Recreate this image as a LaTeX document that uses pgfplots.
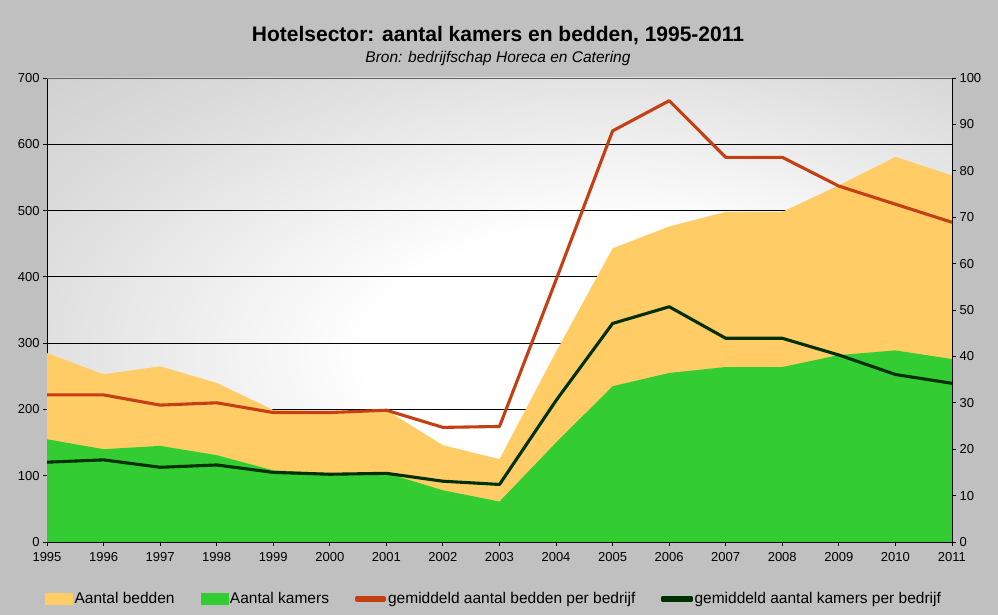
\documentclass[border=0pt]{standalone}
\usepackage{fontspec}
\setmainfont{Liberation Sans}
\usepackage{pgfplots}
\pgfplotsset{compat=1.18}
\definecolor{bg}{RGB}{192,192,192}
\definecolor{bedden}{RGB}{255,204,102}
\definecolor{kamers}{RGB}{51,204,51}
\definecolor{rood}{RGB}{196,64,20}
\definecolor{donker}{RGB}{0,48,0}
\pgfdeclareradialshading{plotbg}{\pgfpoint{8bp}{-6bp}}{color(0bp)=(white); color(14bp)=(white); color(32bp)=(white!45!bg); color(52bp)=(bg); color(80bp)=(bg)}
\begin{document}
\begin{tikzpicture}[x=1pt,y=1pt]
\useasboundingbox (0,0) rectangle (998,615);
\fill[bg] (0,0) rectangle (998,615);
\node[font=\fontsize{21}{25}\selectfont\bfseries] at (498,579) {Hotelsector: aantal kamers en bedden, 1995-2011};
\node[font=\fontsize{15.5}{18}\selectfont\itshape] at (498,556) {Bron: bedrijfschap Horeca en Catering};
\begin{axis}[
  at={(47pt,73pt)}, anchor=south west,
  scale only axis, width=905pt, height=464pt,
  xmin=1995, xmax=2011, ymin=0, ymax=700,
  axis x line*=bottom, axis y line*=left,
  axis line style={black, line width=0.8pt},
  xtick={1995,...,2011}, ytick={0,100,...,700},
  tick align=outside, major tick length=4pt,
  tick style={black, line width=0.8pt},
  ymajorgrids, grid style={black, line width=0.8pt},
  axis background/.style={shading=plotbg},
  ticklabel style={font=\fontsize{13}{15}\selectfont},
  xticklabel style={yshift=-3pt},
  /pgf/number format/1000 sep={},
  /pgf/number format/assume math mode=true,
]
\addplot[draw=none, fill=bedden] coordinates {
(1995,285) (1996,253) (1997,265) (1998,240) (1999,199) (2000,198) (2001,199) (2002,146) (2003,125)
(2004,287) (2005,443) (2006,476) (2007,498) (2008,498) (2009,538) (2010,581) (2011,553)} \closedcycle;
\addplot[draw=none, fill=kamers] coordinates {
(1995,155) (1996,140) (1997,145) (1998,131) (1999,108) (2000,104) (2001,104) (2002,78) (2003,61)
(2004,150) (2005,235) (2006,255) (2007,264) (2008,264) (2009,282) (2010,289) (2011,276)} \closedcycle;
\draw[gray!75!black, line width=0.8pt] (rel axis cs:0,1) -- (rel axis cs:1,1);
\end{axis}
\begin{axis}[
  at={(47pt,73pt)}, anchor=south west,
  scale only axis, width=905pt, height=464pt,
  xmin=1995, xmax=2011, ymin=0, ymax=100,
  axis x line=none, axis y line*=right,
  axis line style={black, line width=0.8pt},
  ytick={0,10,...,100},
  tick align=outside, major tick length=4pt,
  tick style={black, line width=0.8pt},
  ticklabel style={font=\fontsize{13}{15}\selectfont},
  /pgf/number format/assume math mode=true,
  legend columns=4,
  legend style={at={(0.494,-0.123)}, anchor=center, draw=none, fill=none,
    font=\fontsize{15.5}{18}\selectfont, inner sep=0pt,
    /tikz/every even column/.append style={column sep=24pt},
    nodes={inner sep=2pt}},
]
\addlegendimage{legend image code/.code={\fill[bedden] (0pt,-5.5pt) rectangle (27pt,5.5pt);}}
\addlegendentry{Aantal bedden}
\addlegendimage{legend image code/.code={\fill[kamers] (0pt,-5.5pt) rectangle (27pt,5.5pt);}}
\addlegendentry{Aantal kamers}
\addplot[rood, line width=3.1pt, line join=round,
  legend image code/.code={\fill[rood] (0pt,-1.7pt) rectangle (28pt,1.7pt);}] coordinates {
(1995,31.7) (1996,31.7) (1997,29.5) (1998,30.0) (1999,27.9) (2000,27.9) (2001,28.4) (2002,24.7) (2003,24.9)
(2004,56.5) (2005,88.6) (2006,95.1) (2007,82.9) (2008,82.9) (2009,76.7) (2010,72.8) (2011,68.9)};
\addlegendentry{gemiddeld aantal bedden per bedrijf}
\addplot[donker, line width=3.1pt, line join=round,
  legend image code/.code={\fill[donker] (0pt,-1.7pt) rectangle (28pt,1.7pt);}] coordinates {
(1995,17.2) (1996,17.7) (1997,16.1) (1998,16.6) (1999,15.0) (2000,14.6) (2001,14.8) (2002,13.1) (2003,12.4)
(2004,30.5) (2005,47.1) (2006,50.7) (2007,43.9) (2008,43.9) (2009,40.3) (2010,36.1) (2011,34.2)};
\addlegendentry{gemiddeld aantal kamers per bedrijf}
\end{axis}
\end{tikzpicture}
\end{document}
